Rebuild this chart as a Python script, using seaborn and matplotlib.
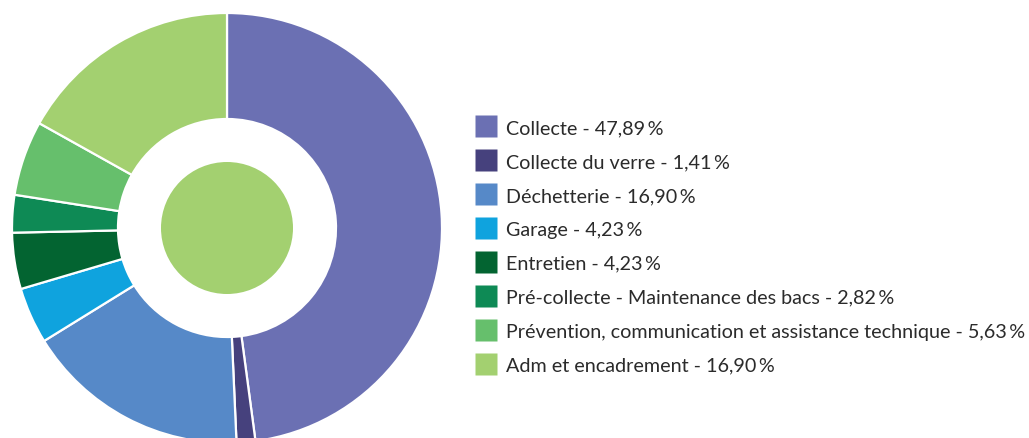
import matplotlib
matplotlib.use("Agg")
import matplotlib.pyplot as plt
import seaborn as sns
from matplotlib.lines import Line2D
from matplotlib.patches import Circle

categories = ["Collecte", "Collecte du verre", "Déchetterie", "Garage", "Entretien",
              "Pré-collecte - Maintenance des bacs",
              "Prévention, communication et assistance technique",
              "Adm et encadrement"]
values = [47.89, 1.41, 16.90, 4.23, 4.23, 2.82, 5.63, 16.90]
value_labels = ["47,89", "1,41", "16,90", "4,23", "4,23", "2,82", "5,63", "16,90"]
colors = ["#6B70B3", "#46417D", "#5689C8", "#0FA3DE", "#036431", "#0E8A55", "#66BF6C", "#A3D070"]
center_color = "#A3D070"

sns.set_theme(style="white")
plt.rcParams["font.family"] = ["Lato", "DejaVu Sans"]

W, H = 1029, 439
fig = plt.figure(figsize=(W / 100, H / 100), dpi=100)
ax = fig.add_axes([0, 0, 1, 1])
ax.set_axis_off()

R = 215.0
cx, cy = 227.0, 210.0

palette = sns.color_palette(colors)
wedges, _ = ax.pie(values, colors=palette, startangle=90, counterclock=False,
                   radius=1.0, wedgeprops=dict(width=1 - 109 / R, edgecolor="white", linewidth=1.6))
ax.add_patch(Circle((0, 0), 66 / R, facecolor=center_color, edgecolor="none"))
ax.set_xlim(-cx / R, (W - cx) / R)
ax.set_ylim(-cy / R, (H - cy) / R)
ax.set_aspect("equal")

handles = [Line2D([], [], linestyle="none", marker="s", markersize=16.5,
                  markerfacecolor=c, markeredgecolor="none") for c in palette]
labels = [f"{c} - {v}\u2009%" for c, v in zip(categories, value_labels)]
leg = fig.legend(handles, labels, loc="upper left", bbox_to_anchor=(474 / W, 1 - 120 / H),
                 frameon=False, fontsize=14.2, handlelength=1.2,
                 handletextpad=0.43, labelspacing=0.86, borderaxespad=0, borderpad=0)
for t in leg.get_texts():
    t.set_color("#2b2b2b")

fig.savefig("out.png", dpi=100)
